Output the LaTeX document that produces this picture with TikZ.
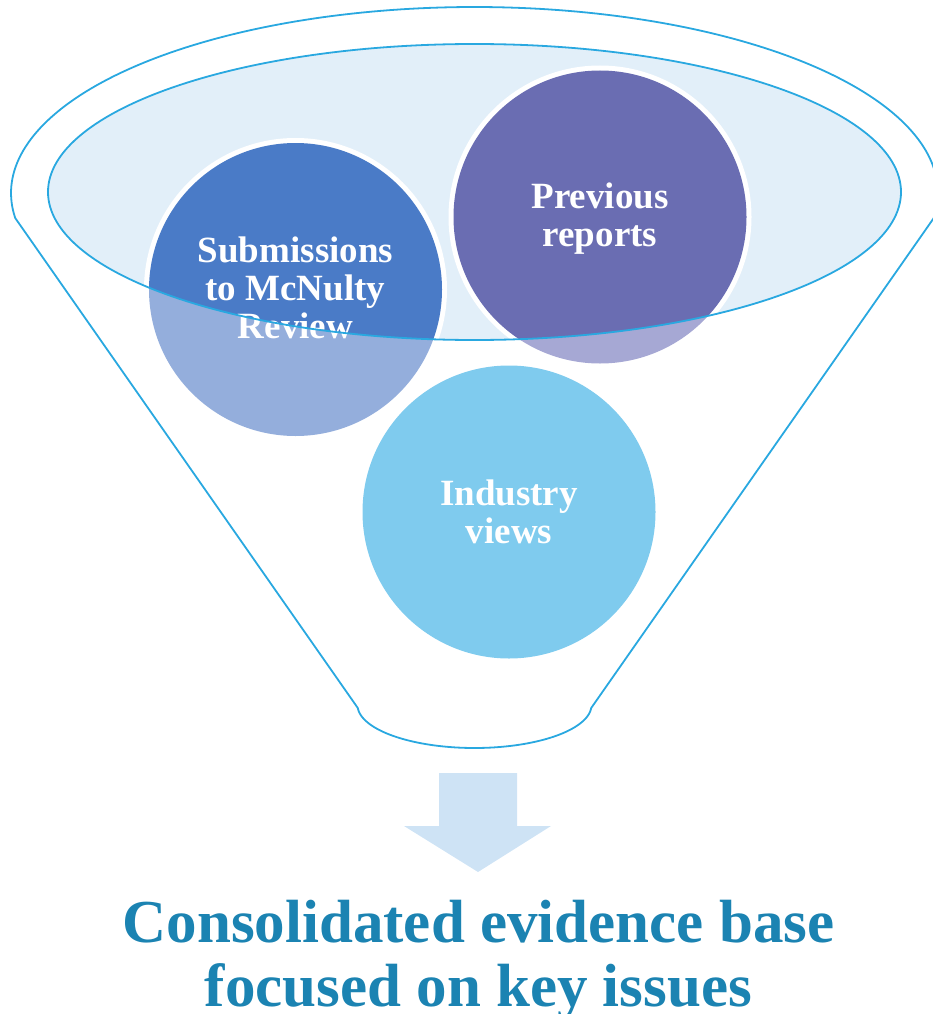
\documentclass[tikz,border=0pt]{standalone}
\usepackage{fontspec}
\setmainfont{Liberation Serif}
\definecolor{funnel}{HTML}{29A8E0}
\definecolor{rimfill}{HTML}{E2EFF9}
\definecolor{cAdark}{HTML}{4A7BC7}
\definecolor{cAlight}{HTML}{94AEDC}
\definecolor{cBdark}{HTML}{6A6DB2}
\definecolor{cBlight}{HTML}{A6A8D4}
\definecolor{cC}{HTML}{7FCBEE}
\definecolor{arrowc}{HTML}{CEE3F5}
\definecolor{titlec}{HTML}{1B83B2}
\begin{document}
\begin{tikzpicture}[x=1pt,y=-1pt,
  funnelline/.style={draw=funnel, line width=1.8pt, line join=round},
  disc/.style={circle, inner sep=0pt, minimum size=293pt, draw=none},
  circtext/.style={text=white, font=\bfseries\fontsize{37}{38}\selectfont, align=center, inner sep=0pt},
  titletext/.style={text=titlec, font=\bfseries\fontsize{61}{64}\selectfont, align=center, inner sep=0pt},
  downarrow/.style={fill=arrowc, draw=none}]
\useasboundingbox (0,0) rectangle (933,1014);

% funnel outline
\coordinate (lk) at (15.2,218);
\coordinate (lb) at (357.8,708);
\coordinate (rb) at (591.2,708);
\coordinate (rk) at (933.8,218);
\draw[funnelline] (lk) -- (lb)
  -- plot[domain=176:4, samples=80] ({474.5+117*cos(\x)},{705+43*sin(\x)})
  -- (rb) -- (rk)
  -- plot[domain=7.72:-187.72, samples=160] ({474.5+463.5*cos(\x)},{193+186*sin(\x)})
  -- cycle;

% rim fill
\coordinate (rimc) at (474.5,192);
\fill[rimfill] (rimc) ellipse [x radius=426.5, y radius=148];

% circles (light parts)
\node[disc, fill=cAlight] (sub) at (295.5,289.5) {};
\node[disc, fill=cBlight] (prev) at (600,217) {};
\node[disc, fill=cC] (ind) at (509,512) {};

% parts inside the rim
\begin{scope}
  \clip (rimc) ellipse [x radius=426.5, y radius=148];
  \fill[white] (sub.center) circle [radius=151.5];
  \fill[cAdark] (sub.center) circle [radius=146.5];
  \fill[white] (prev.center) circle [radius=151.5];
  \fill[cBdark] (prev.center) circle [radius=146.5];
\end{scope}

% texts
\node[circtext] (subt) at (295.5,287.5) {Submissions\\to McNulty\\Review};
\node[circtext] (prevt) at (600,219) {Previous\\reports};
\node[circtext] (indt) at (509,511.5) {Industry\\views};

% rim outline
\draw[funnelline] (rimc) ellipse [x radius=426.5, y radius=148];

% arrow
\fill[downarrow] (439,773) -- (517,773) -- (517,826) -- (551,826) -- (478,872)
  -- (404,826) -- (439,826) -- cycle;

% title
\node[titletext] (ttl) at (478.5,960) {Consolidated evidence base\\focused on key issues};
\end{tikzpicture}
\end{document}
